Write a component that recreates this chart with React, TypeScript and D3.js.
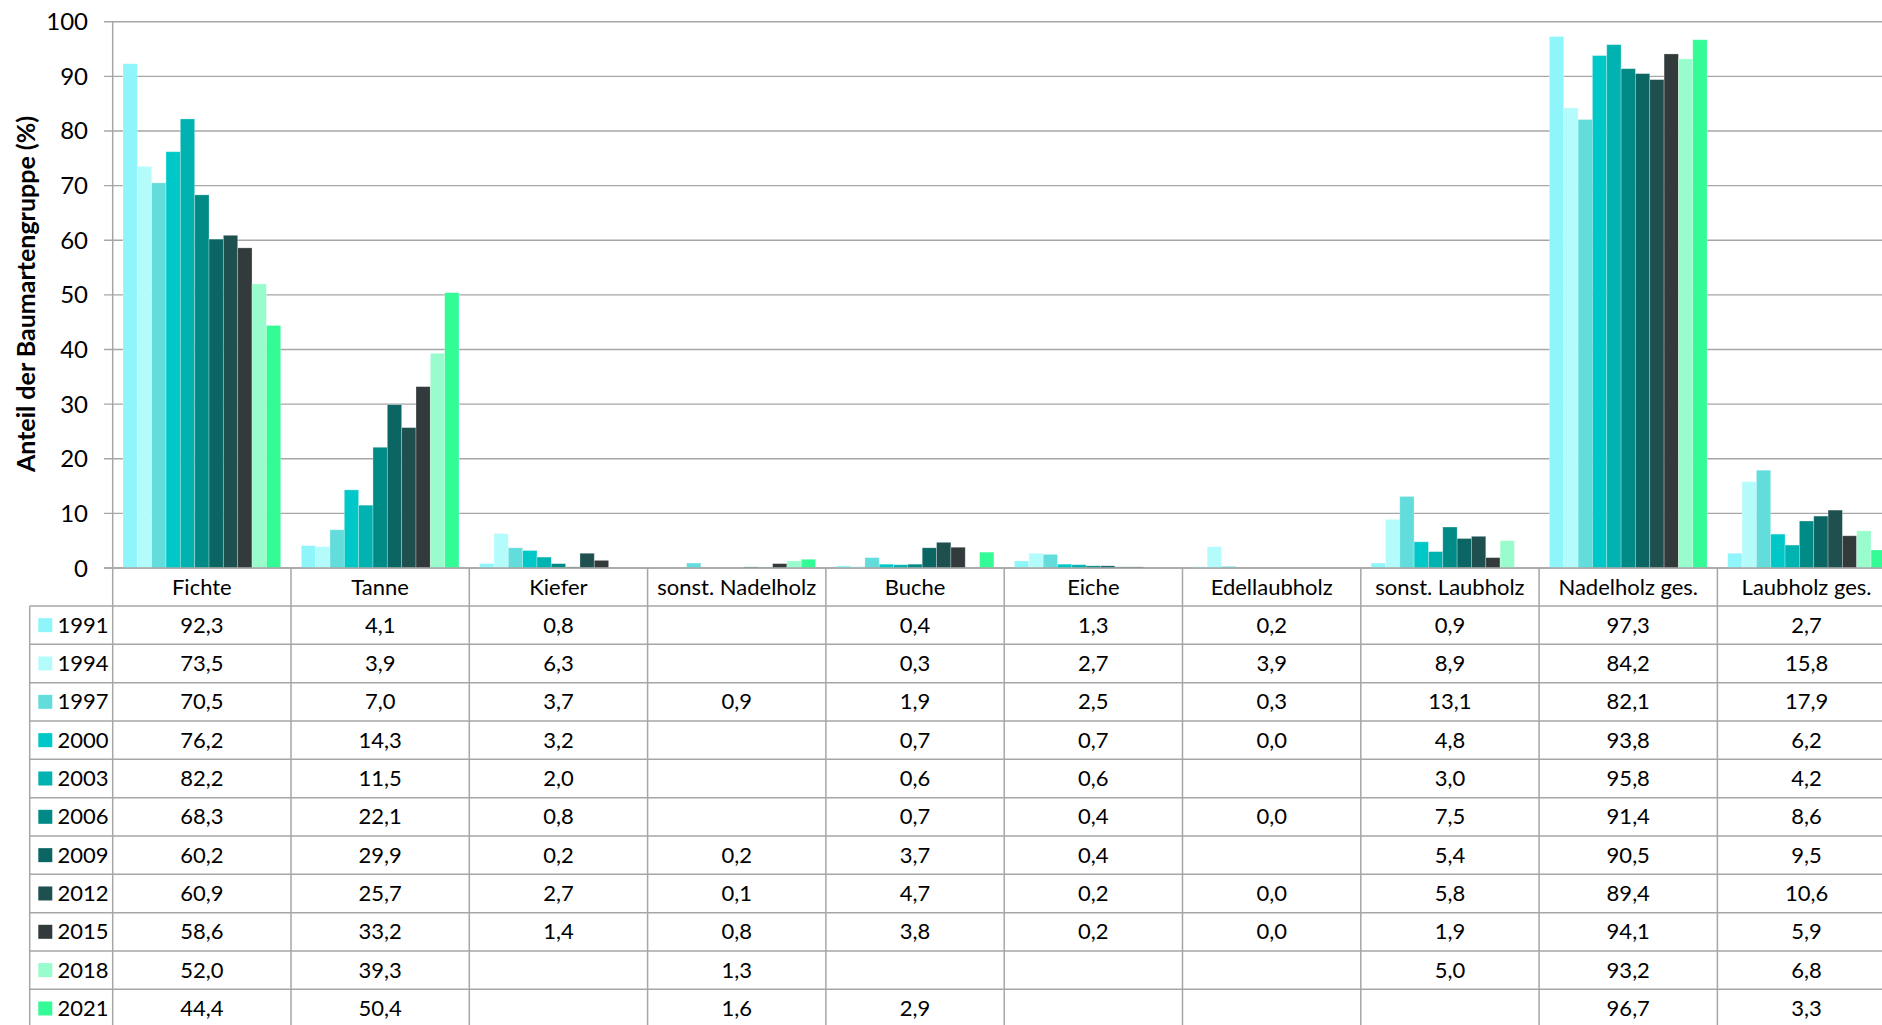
import React from "react";
import * as d3 from "d3";

const categories = ["Fichte", "Tanne", "Kiefer", "sonst. Nadelholz", "Buche", "Eiche", "Edellaubholz", "sonst. Laubholz", "Nadelholz ges.", "Laubholz ges."];
const years = ["1991", "1994", "1997", "2000", "2003", "2006", "2009", "2012", "2015", "2018", "2021"];
const colors = ["#8EF6FA", "#B4FCFC", "#63DCDC", "#00C8C8", "#00B2B0", "#008A86", "#0B6562", "#1F5050", "#323A3C", "#99FCCC", "#33FB96"];

const v1991 = [92.3, 4.1, 0.8, null, 0.4, 1.3, 0.2, 0.9, 97.3, 2.7];
const v1994 = [73.5, 3.9, 6.3, null, 0.3, 2.7, 3.9, 8.9, 84.2, 15.8];
const v1997 = [70.5, 7.0, 3.7, 0.9, 1.9, 2.5, 0.3, 13.1, 82.1, 17.9];
const v2000 = [76.2, 14.3, 3.2, null, 0.7, 0.7, 0.0, 4.8, 93.8, 6.2];
const v2003 = [82.2, 11.5, 2.0, null, 0.6, 0.6, null, 3.0, 95.8, 4.2];
const v2006 = [68.3, 22.1, 0.8, null, 0.7, 0.4, 0.0, 7.5, 91.4, 8.6];
const v2009 = [60.2, 29.9, 0.2, 0.2, 3.7, 0.4, null, 5.4, 90.5, 9.5];
const v2012 = [60.9, 25.7, 2.7, 0.1, 4.7, 0.2, 0.0, 5.8, 89.4, 10.6];
const v2015 = [58.6, 33.2, 1.4, 0.8, 3.8, 0.2, 0.0, 1.9, 94.1, 5.9];
const v2018 = [52.0, 39.3, null, 1.3, null, null, null, 5.0, 93.2, 6.8];
const v2021 = [44.4, 50.4, null, 1.6, 2.9, null, null, null, 96.7, 3.3];

const series: (number | null)[][] = [v1991, v1994, v1997, v2000, v2003, v2006, v2009, v2012, v2015, v2018, v2021];
const yTicks = [0, 10, 20, 30, 40, 50, 60, 70, 80, 90, 100];

const W = 1882;
const H = 1025;
const FONT = "Lato, 'Open Sans', sans-serif";

export default function App() {
  const plotLeft = 112.7;
  const step = 178.3;
  const y0 = 568;
  const y100 = 21.7;
  const x = d3.scaleBand<string>().domain(categories).range([plotLeft, plotLeft + step * categories.length]).padding(0);
  const inner = d3.scaleBand<string>().domain(years).range([10.3, step - 10.3]).padding(0);
  const y = d3.scaleLinear().domain([0, 100]).range([y0, y100]);

  const headerBottom = 606;
  const rowH = 38.33;
  const tableLeft = 29.7;
  const tableBottom = headerBottom + rowH * years.length;
  const gridColor = "#A6A6A6";
  const fmt = (v: number) => v.toFixed(1).replace(".", ",");

  return (
    <div style={{ position: "absolute", left: 0, top: 0, width: W, height: H, background: "#fff" }}>
      <svg width={W} height={H} style={{ display: "block" }} fontFamily={FONT}>
        <rect x={0} y={0} width={W} height={H} fill="#fff" />
        {yTicks.map((t) => (
          <line key={"g" + t} x1={104} x2={W} y1={y(t)} y2={y(t)} stroke={gridColor} strokeWidth={1.4} />
        ))}
        {yTicks.map((t) => (
          <text key={"yl" + t} x={88} y={y(t) - 1} textAnchor="end" dominantBaseline="central" fontSize={24} fill="#000">
            {t}
          </text>
        ))}
        <text
          transform={`translate(25,294) rotate(-90)`}
          textAnchor="middle"
          dominantBaseline="central"
          fontSize={25}
          fontWeight="bold"
          fill="#000"
        >
          Anteil der Baumartengruppe (%)
        </text>
        {series.map((vals, si) =>
          vals.map((v, ci) => {
            if (v === null || v <= 0) return null;
            const bx = (x(categories[ci]) as number) + (inner(years[si]) as number);
            return (
              <rect
                key={`b${si}-${ci}`}
                x={bx}
                y={y(v)}
                width={inner.bandwidth()}
                height={y0 - y(v)}
                fill={colors[si]}
                stroke="#ffffff"
                strokeOpacity={0.35}
                strokeWidth={0.8}
              />
            );
          })
        )}
        <line x1={plotLeft} x2={plotLeft} y1={y100} y2={tableBottom} stroke={gridColor} strokeWidth={1.5} />
        <line x1={104} x2={W} y1={y0} y2={y0} stroke={gridColor} strokeWidth={1.5} />
        {d3.range(years.length + 1).map((i) => (
          <line
            key={"h" + i}
            x1={tableLeft}
            x2={W}
            y1={headerBottom + rowH * i}
            y2={headerBottom + rowH * i}
            stroke={gridColor}
            strokeWidth={1.5}
          />
        ))}
        <line x1={tableLeft} x2={tableLeft} y1={headerBottom} y2={tableBottom} stroke={gridColor} strokeWidth={1.5} />
        {categories.map((c) => (
          <line
            key={"v" + c}
            x1={(x(c) as number) + step}
            x2={(x(c) as number) + step}
            y1={y0}
            y2={tableBottom}
            stroke={gridColor}
            strokeWidth={1.5}
          />
        ))}
        {categories.map((c) => (
          <text
            key={"hd" + c}
            x={(x(c) as number) + step / 2}
            y={(y0 + headerBottom) / 2 - 1}
            textAnchor="middle"
            dominantBaseline="central"
            fontSize={22}
            fill="#000"
          >
            {c}
          </text>
        ))}
        {years.map((yr, i) => {
          const cy = headerBottom + rowH * i + rowH / 2;
          return (
            <g key={"lg" + yr}>
              <rect x={38.3} y={cy - 7} width={14} height={14} fill={colors[i]} />
              <text x={57.5} y={cy - 1} dominantBaseline="central" fontSize={22} fill="#000">
                {yr}
              </text>
            </g>
          );
        })}
        {series.map((vals, si) =>
          vals.map((v, ci) =>
            v === null ? null : (
              <text
                key={`t${si}-${ci}`}
                x={(x(categories[ci]) as number) + step / 2}
                y={headerBottom + rowH * si + rowH / 2 - 1}
                textAnchor="middle"
                dominantBaseline="central"
                fontSize={22}
                fill="#000"
              >
                {fmt(v)}
              </text>
            )
          )
        )}
      </svg>
    </div>
  );
}
